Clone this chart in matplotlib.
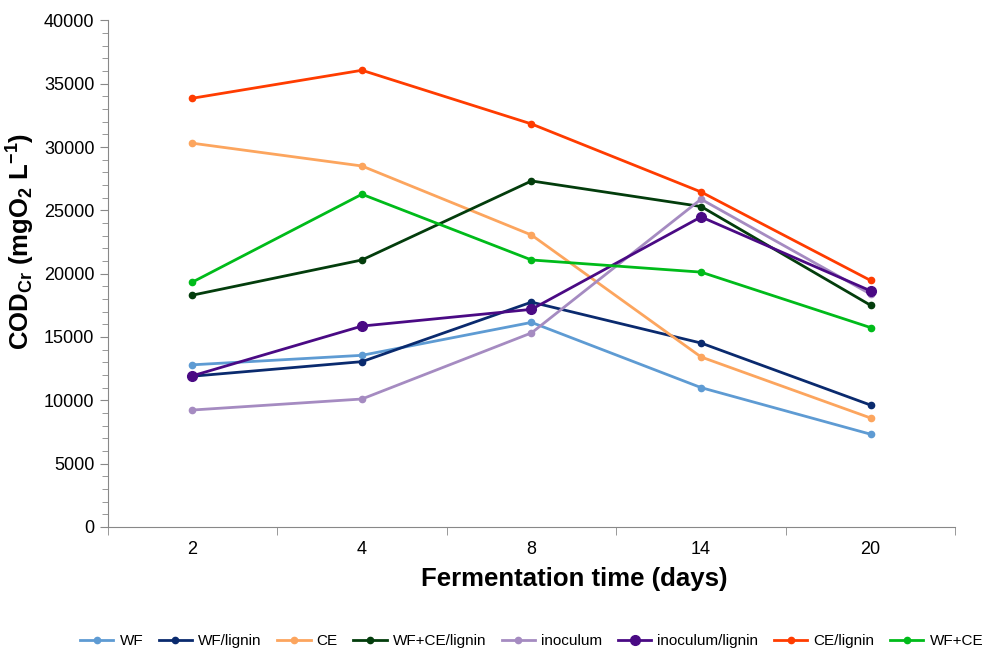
import matplotlib.pyplot as plt
from matplotlib.ticker import MultipleLocator, FixedLocator

plt.rcParams['font.family'] = ['Liberation Sans', 'DejaVu Sans']
plt.rcParams['mathtext.fontset'] = 'custom'
plt.rcParams['mathtext.bf'] = 'Liberation Sans:bold'
plt.rcParams['mathtext.rm'] = 'Liberation Sans:bold'
plt.rcParams['mathtext.default'] = 'bf'

days = ["2", "4", "8", "14", "20"]

wf = [12800, 13550, 16150, 11000, 7320]
wf_lignin = [11900, 13050, 17750, 14520, 9620]
ce = [30300, 28500, 23050, 13420, 8600]
wf_ce_lignin = [18300, 21080, 27320, 25300, 17500]
inoculum = [9230, 10100, 15320, 25880, 18380]
inoculum_lignin = [11930, 15860, 17180, 24480, 18640]
ce_lignin = [33850, 36060, 31820, 26450, 19460]
wf_ce = [19330, 26270, 21080, 20120, 15740]

series = [
    ("WF", wf, "#5e9bd3", 4.5),
    ("WF/lignin", wf_lignin, "#0a2a6e", 4.5),
    ("CE", ce, "#fca55e", 4.5),
    ("WF+CE/lignin", wf_ce_lignin, "#033d0c", 4.5),
    ("inoculum", inoculum, "#a58bc1", 4.5),
    ("inoculum/lignin", inoculum_lignin, "#4a0a84", 7),
    ("CE/lignin", ce_lignin, "#ff3c00", 4.5),
    ("WF+CE", wf_ce, "#00bb1a", 4.5),
]

fig, ax = plt.subplots(figsize=(9.87, 6.57), dpi=100)
fig.subplots_adjust(left=0.109, right=0.968, top=0.969, bottom=0.198)

x = list(range(len(days)))
for name, vals, color, ms in series:
    ax.plot(x, vals, color=color, marker="o", markersize=ms, linewidth=2, label=name)

ax.set_xlim(-0.5, len(days) - 0.5)
ax.set_ylim(0, 40000)
ax.yaxis.set_major_locator(MultipleLocator(5000))
ax.yaxis.set_minor_locator(MultipleLocator(1000))

ax.set_xticks(x)
ax.set_xticklabels(days)
ax.xaxis.set_minor_locator(FixedLocator([i - 0.5 for i in range(len(days) + 1)]))
ax.tick_params(axis="x", which="major", length=0, labelsize=13, pad=10)
ax.tick_params(axis="x", which="minor", length=6, color="#888888", direction="out")
ax.tick_params(axis="y", which="major", length=6, color="#888888", labelsize=13)
ax.tick_params(axis="y", which="minor", length=4, color="#888888")

for side in ["top", "right"]:
    ax.spines[side].set_visible(False)
for side in ["left", "bottom"]:
    ax.spines[side].set_color("#888888")

ax.set_xlabel("Fermentation time (days)", fontsize=18.5, fontweight="bold")
ax.xaxis.set_label_coords(0.55, -0.08)
ax.set_ylabel(r"COD$_{Cr}$ (mgO$_{2}$ L$^{-1}$)", fontsize=18.5, fontweight="bold")
ax.yaxis.set_label_coords(-0.083, 0.564)

ax.legend(loc="center", bbox_to_anchor=(0.5, -0.226), ncol=8, frameon=False,
          fontsize=11, handlelength=2.2, handletextpad=0.4, columnspacing=1.0)

plt.savefig("out.png", dpi=100)
